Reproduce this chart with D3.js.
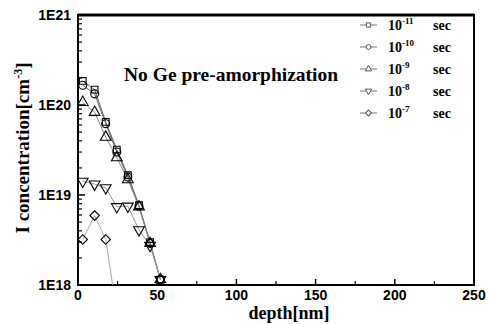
<!DOCTYPE html>
<html>
<head>
<meta charset="utf-8">
<script src="https://cdn.jsdelivr.net/npm/d3@7"></script>
<style>
body { margin: 0; background: #fff; }
svg { display: block; }
</style>
</head>
<body>
<div id="chart"></div>
<script>
// depth[nm] for each point
var depths = [3, 10.5, 17.5, 24.5, 31.5, 38.5, 45.5, 52];
var depthsShort = [3, 10.5, 17.5, 24.5];

// I concentration per anneal time
var s11 = [1.85e20, 1.48e20, 6.5e19, 3.2e19, 1.66e19, 7.7e18, 3.0e18, 1.15e18];
var s10 = [1.66e20, 1.33e20, 6.2e19, 3.0e19, 1.58e19, 7.5e18, 2.9e18, 1.15e18];
var s9  = [1.07e20, 8.3e19, 4.4e19, 2.6e19, 1.48e19, 7.4e18, 2.9e18, 1.15e18];
var s8  = [1.42e19, 1.32e19, 1.2e19, 7.4e18, 7.5e18, 4.1e18, 2.75e18, 1.15e18];
var s7  = [3.2e18, 5.9e18, 3.2e18, 5e17];

var labels = ["-11", "-10", "-9", "-8", "-7"];
var xTicks = [0, 50, 100, 150, 200, 250];
var yTicks = [1e18, 1e19, 1e20, 1e21];
var yTickLabels = ["1E18", "1E19", "1E20", "1E21"];

var series = [
  {x: depths, y: s11, sym: "square", line: "#666"},
  {x: depths, y: s10, sym: "circle", line: "#666"},
  {x: depths, y: s9, sym: "triangle", line: "#888"},
  {x: depths, y: s8, sym: "down", line: "#999"},
  {x: depthsShort, y: s7, sym: "diamond", line: "#aaa"}
];

var W = 493, H = 324;
var pL = 78, pR = 474, pT = 15, pB = 285;

var svg = d3.select("#chart").append("svg")
  .attr("width", W)
  .attr("height", H);

var x = d3.scaleLinear().domain([0, 250]).range([pL, pR]);
var y = d3.scaleLog().domain([1e18, 1e21]).range([pB, pT]);

svg.append("clipPath").attr("id", "plotclip")
  .append("rect")
  .attr("x", pL).attr("y", pT)
  .attr("width", pR - pL).attr("height", pB - pT);

// minor ticks on y (2..9 each decade)
var yMinor = [];
[1e18, 1e19, 1e20].forEach(function(d) {
  for (var k = 2; k <= 9; k++) yMinor.push(d * k);
});

var axisY = svg.append("g");
axisY.selectAll(".ymin").data(yMinor).enter().append("line")
  .attr("x1", pL).attr("x2", pL + 4)
  .attr("y1", function(d) { return y(d); })
  .attr("y2", function(d) { return y(d); })
  .attr("stroke", "#000").attr("stroke-width", 1.2);
axisY.selectAll(".ymaj").data(yTicks).enter().append("line")
  .attr("x1", pL).attr("x2", pL + 7)
  .attr("y1", function(d) { return y(d); })
  .attr("y2", function(d) { return y(d); })
  .attr("stroke", "#000").attr("stroke-width", 1.5);
axisY.selectAll(".ylab").data(yTicks).enter().append("text")
  .attr("x", pL - 7)
  .attr("y", function(d) { return y(d) + 5; })
  .attr("text-anchor", "end")
  .attr("font-family", "Liberation Sans, Arial, sans-serif")
  .attr("font-weight", "bold")
  .attr("font-size", 14)
  .text(function(d, i) { return yTickLabels[i]; });

// x ticks
var xMinor = d3.range(25, 250, 50);
var axisX = svg.append("g");
axisX.selectAll(".xmin").data(xMinor).enter().append("line")
  .attr("x1", function(d) { return x(d); })
  .attr("x2", function(d) { return x(d); })
  .attr("y1", pB).attr("y2", pB - 4)
  .attr("stroke", "#000").attr("stroke-width", 1.2);
axisX.selectAll(".xmaj").data(xTicks).enter().append("line")
  .attr("x1", function(d) { return x(d); })
  .attr("x2", function(d) { return x(d); })
  .attr("y1", pB).attr("y2", pB - 6)
  .attr("stroke", "#000").attr("stroke-width", 1.5);
axisX.selectAll(".xlab").data(xTicks).enter().append("text")
  .attr("x", function(d) { return x(d); })
  .attr("y", pB + 15)
  .attr("text-anchor", "middle")
  .attr("font-family", "Liberation Sans, Arial, sans-serif")
  .attr("font-weight", "bold")
  .attr("font-size", 14)
  .text(function(d) { return d; });

// frame
svg.append("rect")
  .attr("x", pL).attr("y", pT)
  .attr("width", pR - pL).attr("height", pB - pT)
  .attr("fill", "none")
  .attr("stroke", "#000")
  .attr("stroke-width", 2);
svg.append("line")
  .attr("x1", pL).attr("x2", pR)
  .attr("y1", pT).attr("y2", pT)
  .attr("stroke", "#000").attr("stroke-width", 3);

// symbols
var symType = {
  square: d3.symbolSquare,
  circle: d3.symbolCircle,
  triangle: d3.symbolTriangle,
  down: d3.symbolTriangle,
  diamond: d3.symbolSquare
};
var symSize = {square: 45, circle: 50, triangle: 50, down: 50, diamond: 45};
function symPath(s, size) {
  return d3.symbol().type(symType[s]).size(size)();
}
function symRot(s) {
  if (s === "down") return " rotate(180)";
  if (s === "diamond") return " rotate(45)";
  return "";
}

var plot = svg.append("g").attr("clip-path", "url(#plotclip)");
var line = d3.line()
  .x(function(d) { return x(d[0]); })
  .y(function(d) { return y(d[1]); });

series.forEach(function(s) {
  var pts = d3.zip(s.x, s.y);
  plot.append("path")
    .datum(pts)
    .attr("d", line)
    .attr("fill", "none")
    .attr("stroke", s.line)
    .attr("stroke-width", 1);
});
series.slice().reverse().forEach(function(s) {
  var pts = d3.zip(s.x, s.y);
  plot.selectAll(null).data(pts).enter().append("path")
    .attr("d", symPath(s.sym, symSize[s.sym]))
    .attr("transform", function(d) {
      return "translate(" + x(d[0]) + "," + y(d[1]) + ")" + symRot(s.sym);
    })
    .attr("fill", "none")
    .attr("stroke", "#000")
    .attr("stroke-width", 1.1);
});

// legend
var leg = svg.append("g");
series.forEach(function(s, i) {
  var ly = 25 + i * 22;
  leg.append("line")
    .attr("x1", 360).attr("x2", 377)
    .attr("y1", ly).attr("y2", ly)
    .attr("stroke", "#777").attr("stroke-width", 1);
  leg.append("path")
    .attr("d", symPath(s.sym, 18))
    .attr("transform", "translate(368.5," + ly + ")" + symRot(s.sym))
    .attr("fill", "#fff")
    .attr("stroke", "#555")
    .attr("stroke-width", 1);
  var t = leg.append("text")
    .attr("x", 388).attr("y", ly + 5)
    .attr("font-family", "Liberation Serif, Times New Roman, serif")
    .attr("font-weight", "bold")
    .attr("font-size", 14);
  t.append("tspan").text("10");
  t.append("tspan").attr("dy", -6).attr("font-size", 9).text(labels[i]);
  t.append("tspan").attr("x", 433).attr("y", ly + 5).text("sec");
});

// annotation
svg.append("text")
  .attr("x", 124).attr("y", 81)
  .attr("font-family", "Liberation Serif, Times New Roman, serif")
  .attr("font-weight", "bold")
  .attr("font-size", 19.5)
  .text("No Ge pre-amorphization");

// axis titles
svg.append("text")
  .attr("x", 289).attr("y", 319)
  .attr("text-anchor", "middle")
  .attr("font-family", "Liberation Serif, Times New Roman, serif")
  .attr("font-weight", "bold")
  .attr("font-size", 18)
  .text("depth[nm]");

var yt = svg.append("text")
  .attr("transform", "translate(29,148) rotate(-90)")
  .attr("text-anchor", "middle")
  .attr("font-family", "Liberation Serif, Times New Roman, serif")
  .attr("font-weight", "bold")
  .attr("font-size", 19);
yt.append("tspan").text("I concentration[cm");
yt.append("tspan").attr("dy", -7).attr("font-size", 12).text("-3");
yt.append("tspan").attr("dy", 7).text("]");
</script>
</body>
</html>
